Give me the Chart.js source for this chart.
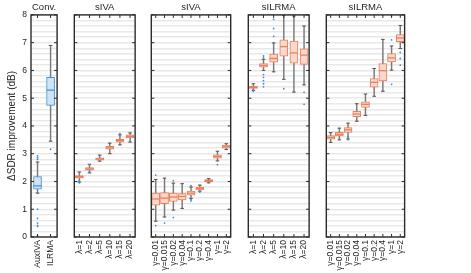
<!DOCTYPE html>
<html>
<head>
<meta charset="utf-8">
<title>SDR improvement box plots</title>
<script src="https://cdn.jsdelivr.net/npm/chart.js@4.4.1/dist/chart.umd.min.js"></script>
<style>
    body { margin: 0; background: #fff; }
    #wrap { position: relative; width: 471px; height: 273px; overflow: hidden; }
    #wrap canvas { position: absolute; top: 0; }
</style>
</head>
<body>
<div id="wrap">
    <canvas id="p1" width="66" height="273" style="left:0px"></canvas>
    <canvas id="p2" width="75" height="273" style="left:69px"></canvas>
    <canvas id="p3" width="94" height="273" style="left:146px"></canvas>
    <canvas id="p4" width="75" height="273" style="left:243px"></canvas>
    <canvas id="p5" width="93" height="273" style="left:321px"></canvas>
</div>
<script>
// each box row: [lower whisker, q1, median, q3, upper whisker]
const convLabels = ['AuxIVA', 'ILRMA'];
const convBoxes = [
    [1.58, 1.72, 1.84, 2.18, 2.70],
    [3.45, 4.74, 5.29, 5.75, 6.90]
];
const convOutliers = [[2.92, 2.86, 2.80, 1.00, 0.67, 0.50, 0.42, 0.38, 0.05], [3.16]];

const sivaLambdaLabels = ['λ=1', 'λ=2', 'λ=5', 'λ=10', 'λ=15', 'λ=20'];
const sivaLambdaBoxes = [
    [1.98, 2.12, 2.17, 2.21, 2.34],
    [2.31, 2.41, 2.45, 2.50, 2.62],
    [2.73, 2.77, 2.81, 2.85, 2.95],
    [3.00, 3.16, 3.21, 3.27, 3.38],
    [3.32, 3.42, 3.47, 3.52, 3.68],
    [3.42, 3.57, 3.62, 3.68, 3.75]
];
const sivaLambdaOutliers = [[1.95, 2.02], [2.60, 2.35], [], [], [3.72], []];

const sivaGammaLabels = ['γ=0.01', 'γ=0.015', 'γ=0.02', 'γ=0.04', 'γ=0.1', 'γ=0.2', 'γ=0.4', 'γ=1', 'γ=2'];
const sivaGammaBoxes = [
    [0.57, 1.15, 1.37, 1.58, 2.07],
    [0.72, 1.20, 1.40, 1.60, 2.12],
    [0.97, 1.28, 1.44, 1.58, 1.94],
    [1.03, 1.34, 1.46, 1.56, 1.92],
    [1.39, 1.51, 1.58, 1.65, 1.80],
    [1.65, 1.70, 1.75, 1.80, 1.87],
    [1.95, 1.99, 2.03, 2.07, 2.10],
    [2.74, 2.84, 2.90, 2.96, 3.09],
    [3.15, 3.20, 3.25, 3.31, 3.36]
];
const sivaGammaOutliers = [[2.23, 0.41], [0.50], [2.03, 0.70], [], [1.85, 1.35, 1.30], [1.62], [], [2.61], []];

const silrmaLambdaLabels = ['λ=1', 'λ=2', 'λ=5', 'λ=10', 'λ=15', 'λ=20'];
const silrmaLambdaBoxes = [
    [5.28, 5.35, 5.39, 5.43, 5.52],
    [6.00, 6.12, 6.18, 6.25, 6.40],
    [5.95, 6.30, 6.43, 6.59, 6.99],
    [5.68, 6.51, 6.86, 7.10, 7.99],
    [5.22, 6.26, 6.63, 7.06, 7.96],
    [5.48, 6.22, 6.55, 6.78, 7.60]
];
const silrmaLambdaOutliers = [[5.30, 5.25], [6.52, 6.45, 5.85, 5.75, 5.63, 5.52, 5.41], [7.84, 7.51, 7.23], [5.34], [], [5.21, 4.78]];

const silrmaGammaLabels = ['γ=0.01', 'γ=0.015', 'γ=0.02', 'γ=0.04', 'γ=0.1', 'γ=0.2', 'γ=0.4', 'γ=1', 'γ=2'];
const silrmaGammaBoxes = [
    [3.41, 3.52, 3.59, 3.65, 3.76],
    [3.50, 3.64, 3.70, 3.77, 3.92],
    [3.53, 3.77, 3.86, 3.94, 4.10],
    [4.17, 4.33, 4.43, 4.53, 4.80],
    [4.38, 4.67, 4.78, 4.87, 5.15],
    [5.07, 5.40, 5.57, 5.71, 6.07],
    [5.25, 5.62, 5.99, 6.25, 7.12],
    [6.01, 6.31, 6.45, 6.61, 6.88],
    [6.79, 7.04, 7.17, 7.29, 7.62]
];
const silrmaGammaOutliers = [[], [], [3.62, 3.50], [], [], [], [], [7.97, 7.10, 5.50], [6.65, 6.43, 6.19]];

Chart.defaults.font.family = '"Liberation Sans", Arial, sans-serif';
Chart.defaults.color = '#262626';

const BLUE = { line: '#3f93d1', fill: '#cfe5f5' };
const ORANGE = { line: '#e8805c', fill: '#fad9cc' };

// frame with inward tick marks, drawn over the boxes
const framePlugin = {
    id: 'frame',
    afterDatasetsDraw(chart) {
        const { ctx, chartArea: a, scales: { x, y } } = chart;
        ctx.save();
        ctx.strokeStyle = '#2b2b2b';
        ctx.lineWidth = 1;
        ctx.beginPath();
        y.ticks.forEach(t => {
            if (Math.abs(t.value - Math.round(t.value)) > 1e-6) return;
            const py = y.getPixelForValue(t.value);
            ctx.moveTo(a.left, py); ctx.lineTo(a.left + 3, py);
            ctx.moveTo(a.right, py); ctx.lineTo(a.right - 3, py);
        });
        x.ticks.forEach((t, i) => {
            const px = x.getPixelForTick(i);
            ctx.moveTo(px, a.top); ctx.lineTo(px, a.top + 3);
            ctx.moveTo(px, a.bottom); ctx.lineTo(px, a.bottom - 3);
        });
        ctx.stroke();
        ctx.lineWidth = 1.4;
        ctx.strokeRect(a.left, a.top, a.width, a.height);
        ctx.restore();
    }
};

function makePanel(id, title, labels, boxes, outliers, col, first) {
    new Chart(document.getElementById(id), {
        type: 'bar',
        data: {
            labels: labels,
            datasets: [
                {
                    type: 'line', order: 0, showLine: false,
                    data: outliers.flatMap((list, i) => list.map(v => ({ x: labels[i], y: v }))),
                    pointRadius: 0.9, pointBackgroundColor: '#3b8fd0', pointBorderWidth: 0
                },
                {
                    type: 'line', order: 1, showLine: false,
                    data: boxes.map(b => b[2]),
                    pointStyle: 'line', pointRadius: 4,
                    pointBorderColor: col.line, pointBorderWidth: 1.3
                },
                {
                    type: 'line', order: 2, showLine: false,
                    data: labels.flatMap((l, i) => [{ x: l, y: boxes[i][0] }, { x: l, y: boxes[i][4] }]),
                    pointStyle: 'line', pointRadius: 1.8,
                    pointBorderColor: '#555', pointBorderWidth: 1
                },
                {
                    order: 3, grouped: false,
                    data: boxes.map(b => [b[1], b[3]]),
                    backgroundColor: col.fill, borderColor: col.line,
                    borderWidth: 1, borderSkipped: false, barThickness: 8
                },
                {
                    order: 4, grouped: false,
                    data: boxes.map(b => [b[0], b[4]]),
                    backgroundColor: '#7a7a7a', borderWidth: 0, barThickness: 0.8
                }
            ]
        },
        options: {
            responsive: false,
            animation: false,
            devicePixelRatio: 1,
            layout: { padding: { left: first ? 0 : 2, right: 2, top: 0, bottom: 0 } },
            plugins: {
                legend: { display: false },
                tooltip: { enabled: false },
                title: {
                    display: true, text: title, fullSize: false,
                    font: { size: 9.5, weight: 'normal' },
                    padding: { top: 2, bottom: 1.5 }
                }
            },
            scales: {
                x: {
                    offset: true,
                    grid: { display: false, drawTicks: false },
                    border: { display: false },
                    ticks: { minRotation: 90, maxRotation: 90, autoSkip: false, padding: 3, font: { size: 8.5 } },
                    afterFit(s) { s.height = 36; }
                },
                y: {
                    min: 0, max: 8,
                    grid: { color: '#e8e8e8', lineWidth: 1.4, drawTicks: false },
                    border: { display: false },
                    ticks: {
                        display: first, stepSize: 0.2, autoSkip: false, padding: 4, font: { size: 8.5 },
                        callback: v => Math.abs(v - Math.round(v)) < 1e-6 ? Math.round(v) : ''
                    },
                    title: {
                        display: first, text: 'ΔSDR improvement (dB)',
                        font: { size: 10 }, padding: { top: 6, bottom: 0 }
                    },
                    afterFit(s) { s.width = first ? 31 : 0; }
                }
            }
        },
        plugins: [framePlugin]
    });
}

makePanel('p1', 'Conv.', convLabels, convBoxes, convOutliers, BLUE, true);
makePanel('p2', 'sIVA', sivaLambdaLabels, sivaLambdaBoxes, sivaLambdaOutliers, ORANGE, false);
makePanel('p3', 'sIVA', sivaGammaLabels, sivaGammaBoxes, sivaGammaOutliers, ORANGE, false);
makePanel('p4', 'sILRMA', silrmaLambdaLabels, silrmaLambdaBoxes, silrmaLambdaOutliers, ORANGE, false);
makePanel('p5', 'sILRMA', silrmaGammaLabels, silrmaGammaBoxes, silrmaGammaOutliers, ORANGE, false);
</script>
</body>
</html>
